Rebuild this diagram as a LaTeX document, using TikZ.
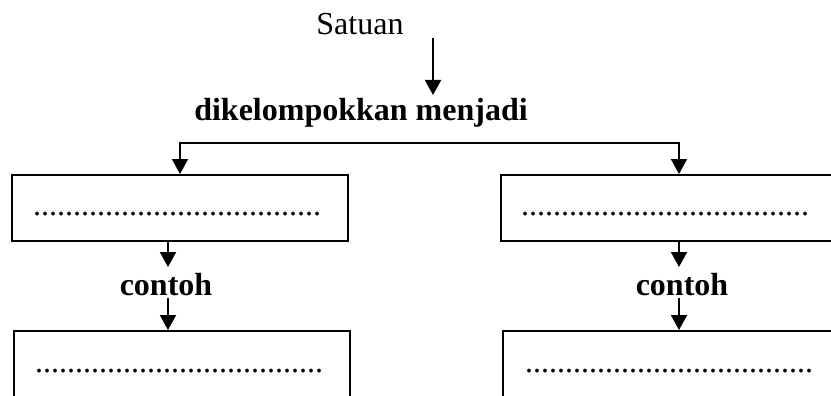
\documentclass[tikz,border=0pt]{standalone}
\usepackage{fontspec}
\setmainfont{Liberation Serif}
\usetikzlibrary{arrows.meta}

\tikzset{
  box/.style={draw, line width=2pt, inner sep=0pt, minimum width=#1},
  box/.default=336pt,
  lbl/.style={inner sep=0pt, anchor=base, font=\fontsize{32}{38}\selectfont},
  boldlbl/.style={lbl, font=\fontsize{32}{38}\selectfont\bfseries},
  dots/.style={inner sep=0pt, anchor=base west, font=\fontsize{32}{38}\selectfont},
  arr/.style={line width=2pt, -{Triangle[length=15pt,width=16pt]}},
  arrtwo/.style={line width=2pt, {Triangle[length=15pt,width=16pt]}-{Triangle[length=15pt,width=16pt]}}
}

\newcommand{\dotrow}{....................................}

\begin{document}
\begin{tikzpicture}[x=1pt, y=-1pt]
  \useasboundingbox (0,0) rectangle (831,396);
  \clip (0,0) rectangle (831,396);

  % headings
  \node[lbl] (sat) at (360,35) {Satuan};
  \node[boldlbl] (grp) at (361,121) {dikelompokkan menjadi};

  % category boxes
  \node[box, minimum height=66pt] (b1) at (180,208) {};
  \node[box=340pt, minimum height=66pt] (b2) at (671,208) {};
  % example boxes (run past the lower edge)
  \node[box, minimum height=90pt] (e1) at (182,376) {};
  \node[box=340pt, minimum height=90pt] (e2) at (673,376) {};

  % blanks to fill in
  \node[dots] (d1) at (33,215) {\dotrow};
  \node[dots] (d2) at (521,215) {\dotrow};
  \node[dots] (d3) at (35,372) {\dotrow};
  \node[dots] (d4) at (525,372) {\dotrow};

  % "contoh" labels
  \node[boldlbl] (c1) at (166,295) {contoh};
  \node[boldlbl] (c2) at (682,295) {contoh};

  % connector anchors
  \coordinate (s0) at (433,38);
  \coordinate (s1) at (433,95);
  \coordinate (bl) at (180,143);
  \coordinate (br) at (679,143);

  % arrows
  \draw[arr] (s0) -- (s1);
  \draw[arrtwo] (bl |- b1.north) -- (bl) -- (br) -- (br |- b2.north);
  \draw[arr] (168,0 |- b1.south) -- (168,267);
  \draw[arr] (168,298) -- (168,0 |- e1.north);
  \draw[arr] (679,0 |- b2.south) -- (679,267);
  \draw[arr] (679,298) -- (679,0 |- e2.north);
\end{tikzpicture}
\end{document}
